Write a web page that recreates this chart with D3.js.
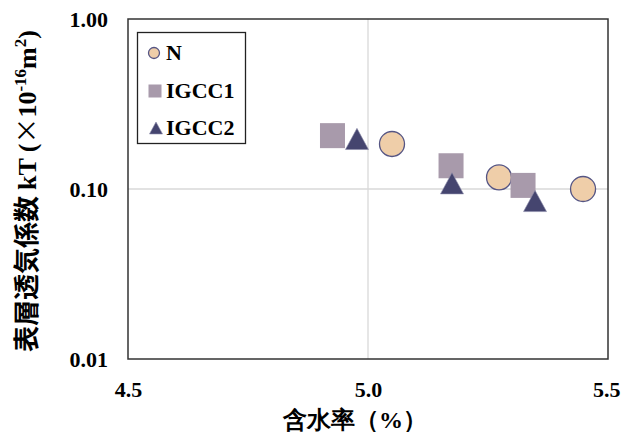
<!DOCTYPE html>
<html>
<head>
<meta charset="utf-8">
<script src="https://cdn.jsdelivr.net/npm/d3@7"></script>
<style>
  body { margin: 0; background: #fff; }
  text { font-family: "Liberation Serif", "Times New Roman", serif; font-weight: bold; }
</style>
</head>
<body>
<svg id="chart" width="621" height="432"></svg>
<script>
// data
var seriesNames = ["N", "IGCC1", "IGCC2"]
var nX = [5.05, 5.273, 5.448]
var nY = [0.184, 0.117, 0.100]
var igcc1X = [4.926, 5.173, 5.323]
var igcc1Y = [0.206, 0.137, 0.105]
var igcc2X = [4.977, 5.175, 5.348]
var igcc2Y = [0.197, 0.108, 0.085]
var xTicks = [4.5, 5.0, 5.5]
var yTicks = [0.01, 0.1, 1]

const svg = d3.select("#chart")
const plotL = 128, plotR = 608, plotT = 19, plotB = 359

var x = d3.scaleLinear().domain([4.5, 5.5]).range([plotL, plotR])
var y = d3.scaleLog().domain([0.01, 1]).range([plotB, plotT])

// grid
svg.append("g").selectAll("line")
    .data(xTicks.slice(1, -1))
    .join("line")
    .attr("x1", d => x(d)).attr("x2", d => x(d))
    .attr("y1", plotT).attr("y2", plotB)
    .attr("stroke", "#d9d9d9").attr("stroke-width", 1.3)
svg.append("g").selectAll("line")
    .data(yTicks.slice(1, -1))
    .join("line")
    .attr("y1", d => y(d)).attr("y2", d => y(d))
    .attr("x1", plotL).attr("x2", plotR)
    .attr("stroke", "#d9d9d9").attr("stroke-width", 1.3)

// frame
svg.append("rect")
    .attr("x", plotL).attr("y", plotT)
    .attr("width", plotR - plotL).attr("height", plotB - plotT)
    .attr("fill", "none").attr("stroke", "#333").attr("stroke-width", 1.5)

// axes labels
var xAxis = d3.axisBottom(x).tickValues(xTicks).tickFormat(d3.format(".1f")).tickSize(0).tickPadding(22)
var gx = svg.append("g").attr("transform", `translate(0,${plotB})`).call(xAxis)
gx.select(".domain").remove()
gx.selectAll("text").attr("font-size", 22).attr("fill", "#000")
    .attr("font-family", "Liberation Serif").attr("font-weight", "bold")
// last label sits against the right edge, as in the picture
gx.selectAll("text").filter(d => d == 5.5).attr("text-anchor", "end").attr("x", 12)

var yAxis = d3.axisLeft(y).tickValues(yTicks).tickFormat(d3.format(".2f")).tickSize(0).tickPadding(20)
var gy = svg.append("g").attr("transform", `translate(${plotL},0)`).call(yAxis)
gy.select(".domain").remove()
gy.selectAll("text").attr("font-size", 22).attr("fill", "#000")
    .attr("font-family", "Liberation Serif").attr("font-weight", "bold")

svg.append("text")
    .attr("x", 355).attr("y", 428)
    .attr("text-anchor", "middle")
    .attr("font-size", 24)
    .attr("font-family", "Noto Sans CJK JP")
    .text("含水率（%）")

var ylab = svg.append("text")
    .attr("transform", `translate(36,191) rotate(-90)`)
    .attr("text-anchor", "middle")
    .attr("font-size", 26)
ylab.append("tspan").attr("font-family", "Noto Sans CJK JP").text("表層透気係数 ")
ylab.append("tspan").text("kT (")
ylab.append("tspan").attr("font-family", "Noto Sans CJK JP").attr("font-weight", "normal").text("×")
ylab.append("tspan").text("10")
ylab.append("tspan").attr("font-size", 17).attr("dy", -10).text("-16")
ylab.append("tspan").attr("dy", 10).text("m")
ylab.append("tspan").attr("font-size", 17).attr("dy", -10).text("2")
ylab.append("tspan").attr("dy", 10).text(")")

// markers
var styles = [
    { fill: "#efcea9", stroke: "#555584" },
    { fill: "#a89aab", stroke: "none" },
    { fill: "#45456f", stroke: "none" }
]
function drawMarker(g, i, size) {
    var s = styles[i]
    if (i == 0) {
        g.append("circle").attr("r", size / 2).attr("fill", s.fill)
            .attr("stroke", s.stroke).attr("stroke-width", 1.3)
    } else if (i == 1) {
        g.append("rect").attr("x", -size / 2).attr("y", -size / 2)
            .attr("width", size).attr("height", size).attr("fill", s.fill)
    } else {
        var h = size * 0.92
        g.append("path")
            .attr("d", `M0,${-h / 2}L${size / 2},${h / 2}L${-size / 2},${h / 2}Z`)
            .attr("fill", s.fill).attr("stroke", "#8a8aa8").attr("stroke-width", 0.6)
    }
}

var series = [
    nX.map((v, i) => ({ x: v, y: nY[i] })),
    igcc1X.map((v, i) => ({ x: v, y: igcc1Y[i] })),
    igcc2X.map((v, i) => ({ x: v, y: igcc2Y[i] }))
]
var sizes = [25, 25, 23]
series.forEach((pts, si) => {
    svg.append("g").selectAll("g")
        .data(pts)
        .join("g")
        .attr("transform", d => `translate(${x(d.x)},${y(d.y)})`)
        .each(function () { drawMarker(d3.select(this), si, sizes[si]) })
})

// legend
var lg = svg.append("g")
lg.append("rect").attr("x", 137.5).attr("y", 32.5).attr("width", 108).attr("height", 111)
    .attr("fill", "#fff").attr("stroke", "#222").attr("stroke-width", 1.3)
var legendY = [53, 91, 128]
var legendX = [154, 155, 156]
seriesNames.forEach((name, i) => {
    var g = lg.append("g").attr("transform", `translate(${legendX[i]},${legendY[i]})`)
    drawMarker(g, i, i == 0 ? 11 : 13)
    lg.append("text").attr("x", 166).attr("y", legendY[i] + 7)
        .attr("font-size", 22).text(name)
})
</script>
</body>
</html>
